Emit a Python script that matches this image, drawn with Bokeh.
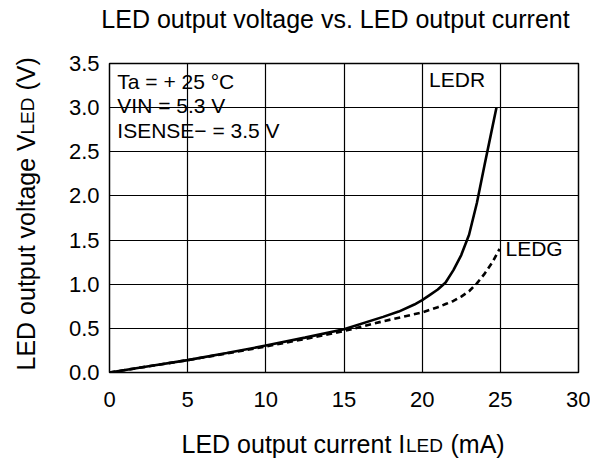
import math
from bokeh.plotting import figure
from bokeh.models import Label, FixedTicker, PrintfTickFormatter, Range1d
from bokeh.layouts import column, row
from bokeh.core.properties import value
from bokeh.embed import file_html
from bokeh.resources import INLINE

# ---- data ----
ledr_current = [0, 2.5, 5, 7.5, 10, 12.5, 15, 17.5, 18.5, 19.5, 20, 20.5, 21, 21.5, 22, 22.5, 23, 23.5, 24, 24.4, 24.75]
ledr_voltage = [0, 0.07, 0.14, 0.22, 0.305, 0.395, 0.49, 0.63, 0.69, 0.77, 0.82, 0.88, 0.94, 1.02, 1.16, 1.33, 1.56, 1.92, 2.36, 2.70, 3.0]

ledg_current = [0, 2.5, 5, 7.5, 10, 12.5, 15, 17.5, 19, 20, 21, 21.5, 22, 22.5, 23, 23.5, 24, 24.5, 24.95]
ledg_voltage = [0, 0.07, 0.14, 0.215, 0.295, 0.38, 0.47, 0.58, 0.64, 0.68, 0.74, 0.775, 0.81, 0.86, 0.92, 1.01, 1.12, 1.25, 1.40]

x_ticks = [0, 5, 10, 15, 20, 25, 30]
y_ticks = [0.0, 0.5, 1.0, 1.5, 2.0, 2.5, 3.0, 3.5]

conditions = ["Ta = + 25 °C", "VIN = 5.3 V", "ISENSE− = 3.5 V"]
title_text = "LED output voltage vs. LED output current"
xlabel_parts = ["LED output current I", "LED", "(mA)"]
ylabel_parts = ["LED output voltage V", "LED", "(V)"]

FONT = "Liberation Sans"


def text_panel(w, h):
    f = figure(width=w, height=h, x_range=Range1d(0, w), y_range=Range1d(0, h),
               x_axis_type=None, y_axis_type=None, output_backend="svg",
               toolbar_location=None, min_border=0, frame_align=False, title=None)
    f.outline_line_color = None
    f.background_fill_color = "white"
    f.border_fill_color = "white"
    return f


# ---- title panel ----
top = text_panel(590, 48)
top.text(x=[335], y=[29.4], text=[title_text], text_font=value(FONT),
         text_font_size=value("25px"), text_align="center", text_baseline="alphabetic",
         text_color="black")

# ---- y-label panel ----
left = text_panel(45, 372)
left.text(x=[25.3, 27.3, 25.3], y=[50, 286, 330], text=ylabel_parts, text_font=value(FONT),
          text_font_size=["25px", "19px", "25px"], angle=math.pi / 2,
          text_align="left", text_baseline="alphabetic", text_color="black")

# ---- x-label panel ----
bottom = text_panel(590, 38)
bottom.text(x=[181, 405.5, 450], y=[14.7, 12.6, 14.7], text=xlabel_parts, text_font=value(FONT),
            text_font_size=["25px", "19px", "25px"],
            text_align="left", text_baseline="alphabetic", text_color="black")

# ---- main plot ----
p = figure(width=545, height=372, x_range=(0, 30), y_range=(0, 3.5),
           output_backend="svg", toolbar_location=None, title=None,
           min_border_left=64, min_border_right=12,
           min_border_top=15, min_border_bottom=48, frame_align=False)

p.background_fill_color = "white"
p.border_fill_color = "white"
p.outline_line_color = "black"
p.outline_line_width = 1.5
p.outline_line_alpha = 1

for ax in (p.xaxis[0], p.yaxis[0]):
    ax.axis_line_color = None
    ax.major_tick_in = 0
    ax.major_tick_out = 0
    ax.minor_tick_line_color = None
    ax.major_label_text_font = FONT
    ax.major_label_text_font_size = "22px"
    ax.major_label_text_color = "black"

p.xaxis.ticker = FixedTicker(ticks=x_ticks)
p.yaxis.ticker = FixedTicker(ticks=y_ticks)
p.yaxis.formatter = PrintfTickFormatter(format="%.1f")
p.xaxis.major_label_standoff = 19
p.yaxis.major_label_standoff = 10

p.xgrid.ticker = FixedTicker(ticks=x_ticks)
p.ygrid.ticker = FixedTicker(ticks=y_ticks)
for g in (p.xgrid[0], p.ygrid[0]):
    g.grid_line_color = "black"
    g.grid_line_width = 1.2
    g.grid_line_alpha = 1

p.line(ledg_current, ledg_voltage, line_color="black", line_width=2.6, line_dash="6 4")
p.line(ledr_current, ledr_voltage, line_color="black", line_width=2.6)


def lab(x, y, text, size):
    p.add_layout(Label(x=x, y=y, text=text, text_font=FONT, text_font_size=size,
                       text_color="black", text_align="left", text_baseline="alphabetic"))


cond_y = [3.297, 3.025, 2.737]
for t, yy in zip(conditions, cond_y):
    lab(0.50, yy, t, "21px")

lab(20.44, 3.315, "LEDR", "21px")
lab(25.33, 1.408, "LEDG", "21px")

layout = column(top, row(left, p), bottom)

open("out.html", "w").write(file_html(layout, INLINE))
